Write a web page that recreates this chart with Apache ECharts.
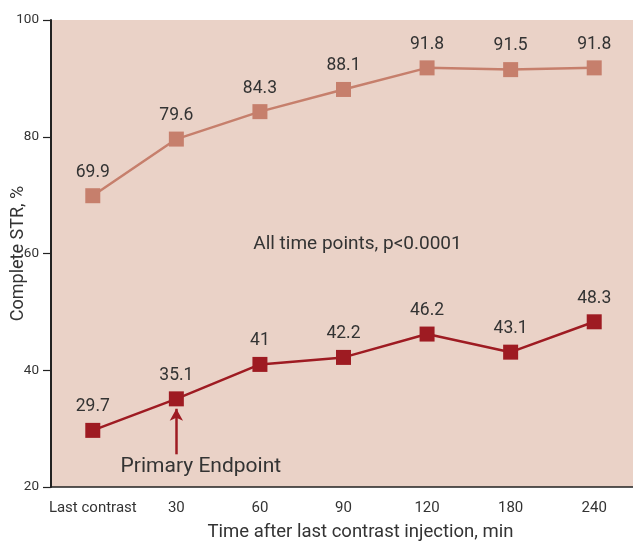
<!DOCTYPE html>
<html><head><meta charset="utf-8">
<script src="https://cdn.jsdelivr.net/npm/echarts@6/dist/echarts.min.js"></script>
<style>html,body{margin:0;padding:0;background:#fff}#c{width:633px;height:542px}</style>
</head><body><div id="c"></div>
<script>
var categories = ['Last contrast', '30', '60', '90', '120', '180', '240'];
var upperValues = [69.9, 79.6, 84.3, 88.1, 91.8, 91.5, 91.8];
var lowerValues = [29.7, 35.1, 41, 42.2, 46.2, 43.1, 48.3];
var yTicks = [20, 40, 60, 80, 100];
var annotationText = 'All time points, p<0.0001';
var endpointText = 'Primary Endpoint';
var endpointCategory = '30';

var FONT = 'Roboto';
var chart = echarts.init(document.getElementById('c'), null, {renderer: 'canvas'});
chart.setOption({
  animation: false,
  backgroundColor: '#fff',
  grid: {left: 51, top: 20, width: 585, height: 467, show: true, backgroundColor: '#ead2c7', borderWidth: 0,
    containLabel: false, outerBoundsMode: 'none'},
  xAxis: {
    type: 'category', data: categories, boundaryGap: true,
    name: 'Time after last contrast injection, min', nameLocation: 'middle', nameGap: 36, nameMoveOverlap: false,
    nameTextStyle: {fontFamily: FONT, fontSize: 18.5, color: '#333', padding: [0, 0, 0, 34]},
    axisLine: {lineStyle: {color: '#222', width: 1.5}},
    axisTick: {length: 9, interval: 0, lineStyle: {color: '#222', width: 1.2}},
    axisLabel: {interval: 0, fontFamily: FONT, fontSize: 15, color: '#333', margin: 14}
  },
  yAxis: {
    type: 'value', min: 20, max: 100, interval: 20,
    name: 'Complete STR, %', nameLocation: 'middle', nameGap: 24, nameMoveOverlap: false,
    nameTextStyle: {fontFamily: FONT, fontSize: 18, color: '#333'},
    axisLine: {show: true, lineStyle: {color: '#222', width: 2}},
    axisTick: {show: true, length: 8, lineStyle: {color: '#222', width: 1.2}},
    axisLabel: {fontFamily: FONT, fontSize: 13.5, color: '#333', margin: 12,
      formatter: function (v) { return yTicks.indexOf(v) >= 0 ? String(v) : ''; }},
    splitLine: {show: false}
  },
  series: [
    {
      type: 'line', data: upperValues, symbol: 'rect', symbolSize: 15,
      itemStyle: {color: '#c67f6c'}, lineStyle: {color: '#c67f6c', width: 2.5},
      label: {show: true, position: 'top', distance: 7, fontFamily: FONT, fontSize: 17.5, color: '#333'},
      markPoint: {
        symbol: 'rect', symbolSize: 0,
        data: [{coord: [3, 61.5], value: annotationText}],
        label: {show: true, position: 'inside', offset: [14, 0], formatter: annotationText, fontFamily: FONT, fontSize: 19, color: '#333'}
      }
    },
    {
      type: 'line', data: lowerValues, symbol: 'rect', symbolSize: 15,
      itemStyle: {color: '#9e1b22'}, lineStyle: {color: '#9e1b22', width: 2.5},
      label: {show: true, position: 'top', distance: 7, fontFamily: FONT, fontSize: 17.5, color: '#333'},
      markLine: {
        silent: true, symbol: ['none', 'arrow'], symbolSize: [10, 12],
        lineStyle: {color: '#9e1b22', width: 2.5, type: 'solid'},
        label: {show: false},
        data: [[{coord: [endpointCategory, 25.6]}, {coord: [endpointCategory, 33.4]}]]
      },
      markPoint: {
        symbol: 'rect', symbolSize: 0,
        data: [{coord: [endpointCategory, 23.4], value: endpointText}],
        label: {show: true, position: 'inside', offset: [24.5, 0], formatter: endpointText, fontFamily: FONT, fontSize: 21, color: '#333'}
      }
    }
  ]
});
</script></body></html>
